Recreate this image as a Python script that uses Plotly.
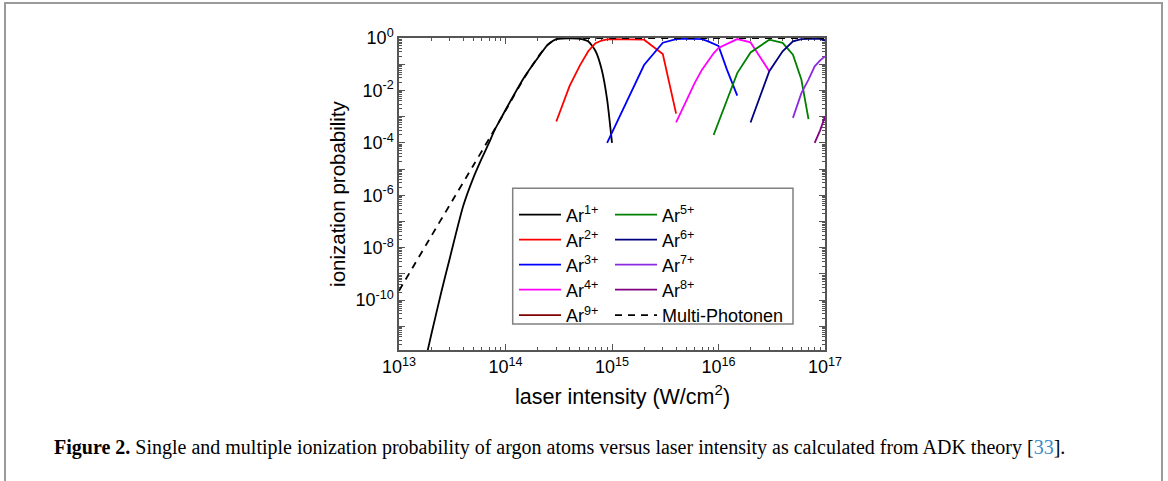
import plotly.graph_objects as go

# ---------------- data ----------------
I_ar1 = [1.8e13, 2e13, 2.5e13, 3e13, 4e13, 5e13, 6e13, 7e13, 8e13, 9e13, 1e14, 1.5e14,
         2e14, 2.5e14, 3e14, 4e14, 5e14, 6e14, 7e14, 8e14, 9e14, 1e15]
P_ar1 = [6.8e-13, 4.5e-12, 2.1e-10, 4.0e-9, 3.8e-7, 4.7e-6, 2.6e-5, 1.0e-4, 3.4e-4, 8.1e-4,
         1.8e-3, 0.032, 0.17, 0.56, 0.91, 0.97, 0.93, 0.74, 0.32, 0.063, 4.5e-3, 1.0e-4]

I_ar2 = [3e14, 4e14, 5e14, 6e14, 7e14, 8e14, 9e14, 1e15, 2e15, 3e15, 4e15]
P_ar2 = [6.5e-4, 0.015, 0.09, 0.32, 0.63, 0.8, 0.88, 0.9, 0.86, 0.245, 1.3e-3]

I_ar3 = [9e14, 2e15, 3e15, 4e15, 5e15, 6e15, 7e15, 8e15, 1e16, 1.2e16, 1.5e16]
P_ar3 = [1.0e-4, 0.093, 0.66, 0.91, 0.94, 0.94, 0.9, 0.74, 0.5, 0.062, 6.3e-3]

I_ar4 = [4e15, 5e15, 6e15, 7e15, 8e15, 9e15, 1e16, 1.5e16, 2e16, 3e16]
P_ar4 = [6e-4, 4e-3, 0.02, 0.062, 0.14, 0.26, 0.42, 0.91, 0.68, 0.054]

I_ar5 = [9e15, 1.5e16, 2e16, 3e16, 4e16, 5e16, 6e16, 7e16]
P_ar5 = [2e-4, 0.046, 0.28, 0.86, 0.65, 0.23, 0.026, 8e-4]

I_ar6 = [2e16, 3e16, 4e16, 5e16, 6e16, 7e16, 8e16, 9e16, 1e17]
P_ar6 = [6e-4, 0.054, 0.31, 0.74, 0.91, 0.94, 0.94, 0.92, 0.8]

I_ar7 = [5e16, 6e16, 7e16, 8e16, 9e16, 1e17]
P_ar7 = [9e-4, 7.9e-3, 0.026, 0.083, 0.14, 0.2]

I_ar8 = [8e16, 9e16, 1e17]
P_ar8 = [1e-4, 3e-4, 1e-3]

# Ar9+ stays below the plotted range (legend entry only)
I_ar9 = [1e17]
P_ar9 = [None]

I_mp = [1e13, 2e13, 3e13, 5e13, 7e13, 1e14, 1.5e14, 2e14, 2.5e14, 3e14, 4e14, 5e14, 1e15, 1e16, 1e17]
P_mp = [2.3e-10, 2.7e-8, 4.3e-7, 1.4e-5, 1.4e-4, 1.7e-3, 0.03, 0.18, 0.56, 0.93, 0.995, 1.0, 1.0, 1.0, 1.0]

x_exps = [13, 14, 15, 16, 17]
y_exps = [0, -1, -2, -3, -4, -5, -6, -7, -8, -9, -10, -11]
y_label_exps = [0, -2, -4, -6, -8, -10]

x_title = "laser intensity (W/cm<sup>2</sup>)"
y_title = "ionization probability"
caption_bold = "Figure 2."
caption_text = ("Single and multiple ionization probability of argon atoms versus laser "
                "intensity as calculated from ADK theory [")
caption_ref = "33"

# ---------------- figure ----------------
FONT = "Liberation Sans, Arial, sans-serif"
# name, x, y, colour, line shape, dash, legend column, legend row
series = [
    ("Ar<sup>1+</sup>", I_ar1, P_ar1, "#000000", "spline", "solid", 0, 0),
    ("Ar<sup>2+</sup>", I_ar2, P_ar2, "#ff0000", "linear", "solid", 0, 1),
    ("Ar<sup>3+</sup>", I_ar3, P_ar3, "#0000ff", "linear", "solid", 0, 2),
    ("Ar<sup>4+</sup>", I_ar4, P_ar4, "#ff00ff", "linear", "solid", 0, 3),
    ("Ar<sup>9+</sup>", I_ar9, P_ar9, "#800000", "linear", "solid", 0, 4),
    ("Ar<sup>5+</sup>", I_ar5, P_ar5, "#008000", "linear", "solid", 1, 0),
    ("Ar<sup>6+</sup>", I_ar6, P_ar6, "#000080", "linear", "solid", 1, 1),
    ("Ar<sup>7+</sup>", I_ar7, P_ar7, "#8a2be2", "linear", "solid", 1, 2),
    ("Ar<sup>8+</sup>", I_ar8, P_ar8, "#800080", "linear", "solid", 1, 3),
    ("Multi-Photonen", I_mp, P_mp, "#000000", "spline", "7px,6px", 1, 4),
]

# plot area geometry (pixels)
W, H = 1168, 481
L, R, T, B = 399, 825, 38, 350
pw, ph = R - L, B - T

def px_x(p):
    return (p - L) / pw

def px_y(p):
    return (B - p) / ph

leg_cols_px = [514, 610]
leg_rows_px = [212.7, 237.7, 262.7, 287.7, 313.3]

fig = go.Figure()
legend_layout = {}
for i, (name, xs, ys, col, shp, dash, c, r) in enumerate(series):
    key = "legend" if i == 0 else "legend%d" % (i + 1)
    fig.add_trace(go.Scatter(x=xs, y=ys, mode="lines", name=name, legend=key,
                             line=dict(color=col, width=1.8, shape=shp, smoothing=0.6, dash=dash)))
    legend_layout[key] = dict(
        x=px_x(leg_cols_px[c]), y=px_y(leg_rows_px[r] - 16.3),
        bgcolor="rgba(0,0,0,0)", borderwidth=0, xanchor="left", yanchor="top",
        font=dict(family=FONT, size=18, color="#000"), tracegroupgap=0,
        itemwidth=42, itemclick=False, itemdoubleclick=False)

xminor = [k * 10.0 ** n for n in range(13, 17) for k in range(2, 10)]
yminor = [k * 10.0 ** n for n in range(-12, 0) for k in range(2, 10)]

axis_col = "#555555"
fig.update_xaxes(type="log", range=[13, 17],
                 tickvals=[10.0 ** e for e in x_exps],
                 ticktext=["10<sup>%d</sup>" % e for e in x_exps],
                 ticks="inside", ticklen=6, tickwidth=1, tickcolor=axis_col,
                 minor=dict(tickvals=xminor, ticks="inside", ticklen=3, tickwidth=1, tickcolor=axis_col),
                 showline=True, linecolor=axis_col, linewidth=1.5, mirror="allticks",
                 showgrid=False, zeroline=False, layer="below traces",
                 tickfont=dict(family=FONT, size=18, color="#000"))
fig.update_yaxes(type="log", range=[-11.9, 0.0],
                 tickvals=[10.0 ** e for e in y_exps],
                 ticktext=[("10<sup>%d</sup>" % e) if e in y_label_exps else "" for e in y_exps],
                 ticks="inside", ticklen=6, tickwidth=1, tickcolor=axis_col,
                 minor=dict(tickvals=yminor, ticks="inside", ticklen=3, tickwidth=1, tickcolor=axis_col),
                 showline=True, linecolor=axis_col, linewidth=1.5, mirror="allticks",
                 showgrid=False, zeroline=False, layer="below traces",
                 tickfont=dict(family=FONT, size=18, color="#000"),
                 title=dict(text=y_title,
                            font=dict(family=FONT, size=20.5, color="#000"), standoff=4))

fig.update_layout(
    width=W, height=H,
    margin=dict(l=L, r=W - R, t=T, b=H - B, autoexpand=False),
    paper_bgcolor="white", plot_bgcolor="white",
    font=dict(family=FONT, color="#000"),
    showlegend=True,
    **legend_layout,
)

# x-axis title (placed as annotation to match its horizontal offset)
fig.add_annotation(xref="paper", yref="paper", x=px_x(622), y=px_y(395),
                   xanchor="center", yanchor="middle", showarrow=False,
                   text=x_title, font=dict(family=FONT, size=21.5, color="#000"))

# legend frame
fig.add_shape(type="rect", xref="paper", yref="paper",
              x0=px_x(512.7), x1=px_x(793), y0=px_y(324), y1=px_y(188.3),
              line=dict(color="#808080", width=1.5), fillcolor="rgba(0,0,0,0)", layer="above")
# outer figure frame
fig.add_shape(type="rect", xref="paper", yref="paper",
              x0=px_x(5), x1=px_x(1162), y0=px_y(495), y1=px_y(3),
              line=dict(color="#9a9a9a", width=2), fillcolor="rgba(0,0,0,0)", layer="above")

fig.add_annotation(xref="paper", yref="paper", x=px_x(52), y=px_y(447),
                   xanchor="left", yanchor="middle", showarrow=False, align="left",
                   text="<b>%s</b> %s<span style='color:#3a8cc6'>%s</span>]." % (caption_bold, caption_text, caption_ref),
                   font=dict(family="Liberation Serif, Times New Roman, serif", size=20, color="#000"))

fig.write_html("out.html", config={"displayModeBar": False},
               post_script="document.body.style.margin='0px';")
